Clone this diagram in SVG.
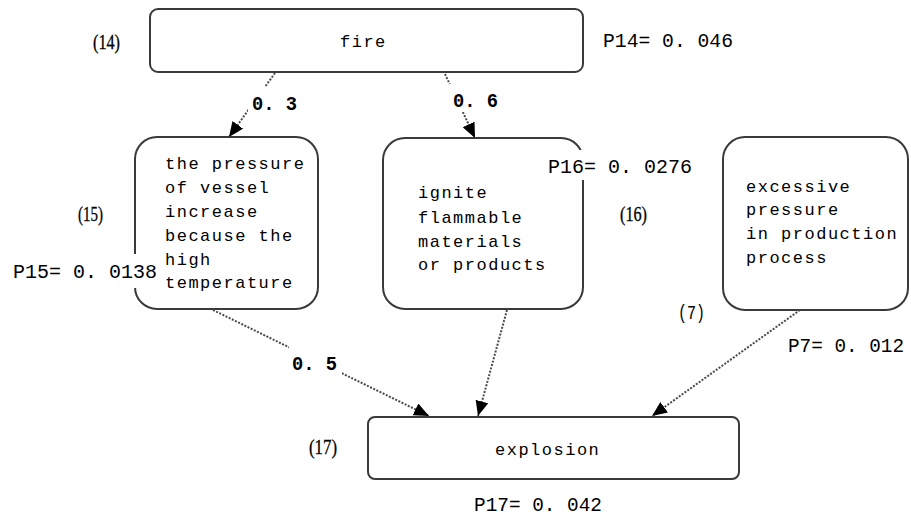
<svg xmlns="http://www.w3.org/2000/svg" width="911" height="519" viewBox="0 0 911 519">
  <style>
    .box { fill: #ffffff; stroke: #3a3a3a; stroke-width: 2; }
    .body { font-family: "Liberation Mono", "DejaVu Sans Mono", monospace; font-size: 17px; letter-spacing: 1.5px; fill: #000; }
    .prob { font-family: "Liberation Mono", "DejaVu Sans Mono", monospace; font-size: 21px; fill: #000; }
    .tag { font-family: "Liberation Serif", "DejaVu Serif", serif; font-size: 20px; fill: #000; stroke: #000; stroke-width: 0.3; }
    .weight { font-family: "Liberation Mono", "DejaVu Sans Mono", monospace; font-size: 20px; font-weight: bold; fill: #000; }
    .link { fill: none; stroke: #4a4a4a; stroke-width: 2; stroke-dasharray: 2 1.5; marker-end: url(#arrow); }
    .mask { fill: #ffffff; }
  </style>
  <defs>
    <marker id="arrow" markerUnits="userSpaceOnUse" markerWidth="15" markerHeight="13" viewBox="0 0 15 13" refX="15" refY="6.5" orient="auto">
      <path d="M0,0 L15,6.5 L0,13 z" fill="#000"/>
    </marker>
  </defs>
  <rect width="911" height="519" fill="#ffffff"/>

  <!-- event 14: fire -->
  <g id="node-fire">
    <rect class="box" x="150" y="9" width="433" height="63" rx="8"/>
    <text class="body" x="340" y="47">fire</text>
    <text class="tag" x="93" y="49" textLength="27" lengthAdjust="spacingAndGlyphs">(14)</text>
    <text class="prob" x="603" y="47" textLength="130" lengthAdjust="spacingAndGlyphs">P14= 0. 046</text>
  </g>

  <!-- event 15: vessel pressure -->
  <g id="node-vessel">
    <rect class="box" x="135" y="137" width="183" height="172" rx="22"/>
    <text class="body" x="165" y="169">the pressure</text>
    <text class="body" x="165" y="193">of vessel</text>
    <text class="body" x="165" y="217">increase</text>
    <text class="body" x="165" y="241">because the</text>
    <text class="body" x="165" y="265">high</text>
    <text class="body" x="165" y="288">temperature</text>
    <text class="tag" x="78" y="221" textLength="25" lengthAdjust="spacingAndGlyphs">(15)</text>
    <rect class="mask" x="10" y="254" width="150" height="34"/>
    <text class="prob" x="13" y="278" textLength="144" lengthAdjust="spacingAndGlyphs">P15= 0. 0138</text>
  </g>

  <!-- event 16: ignition -->
  <g id="node-ignite">
    <rect class="box" x="383" y="138" width="200" height="171" rx="22"/>
    <text class="body" x="418" y="198">ignite</text>
    <text class="body" x="418" y="223">flammable</text>
    <text class="body" x="418" y="247">materials</text>
    <text class="body" x="418" y="270">or products</text>
    <text class="tag" x="620" y="221" textLength="27" lengthAdjust="spacingAndGlyphs">(16)</text>
    <rect class="mask" x="545" y="150" width="150" height="30"/>
    <text class="prob" x="548" y="173" textLength="144" lengthAdjust="spacingAndGlyphs">P16= 0. 0276</text>
  </g>

  <!-- event 7: process overpressure -->
  <g id="node-overpressure">
    <rect class="box" x="723" y="137" width="185" height="173" rx="22"/>
    <text class="body" x="746" y="192">excessive</text>
    <text class="body" x="746" y="215">pressure</text>
    <text class="body" x="746" y="239">in production</text>
    <text class="body" x="746" y="263">process</text>
    <text class="body" x="678" y="319" style="letter-spacing:0;font-size:21px" textLength="27" lengthAdjust="spacingAndGlyphs">(7)</text>
    <text class="prob" x="788" y="352" style="font-size:19.5px" textLength="116" lengthAdjust="spacingAndGlyphs">P7= 0. 012</text>
  </g>

  <!-- event 17: explosion -->
  <g id="node-explosion">
    <rect class="box" x="368" y="417" width="371" height="62" rx="7"/>
    <text class="body" x="495" y="455">explosion</text>
    <text class="tag" x="309" y="454" textLength="28" lengthAdjust="spacingAndGlyphs">(17)</text>
    <text class="prob" x="474" y="511" textLength="128" lengthAdjust="spacingAndGlyphs">P17= 0. 042</text>
  </g>

  <!-- weighted links -->
  <g id="connectors">
    <line class="link" x1="275" y1="73" x2="229" y2="137"/>
    <line class="link" x1="445" y1="74" x2="475" y2="138"/>
    <line class="link" x1="213" y1="310" x2="429" y2="416"/>
    <line class="link" x1="507" y1="310" x2="478" y2="416"/>
    <line class="link" x1="800" y1="310" x2="652" y2="416"/>
    <rect class="mask" x="248" y="87" width="52" height="29"/>
    <text class="weight" x="252" y="110" textLength="45" lengthAdjust="spacingAndGlyphs">0. 3</text>
    <rect class="mask" x="449" y="84" width="52" height="28"/>
    <text class="weight" x="453" y="107" textLength="45" lengthAdjust="spacingAndGlyphs">0. 6</text>
    <rect class="mask" x="289" y="343" width="53" height="33"/>
    <text class="weight" x="292" y="370" textLength="45" lengthAdjust="spacingAndGlyphs">0. 5</text>
  </g>
</svg>
